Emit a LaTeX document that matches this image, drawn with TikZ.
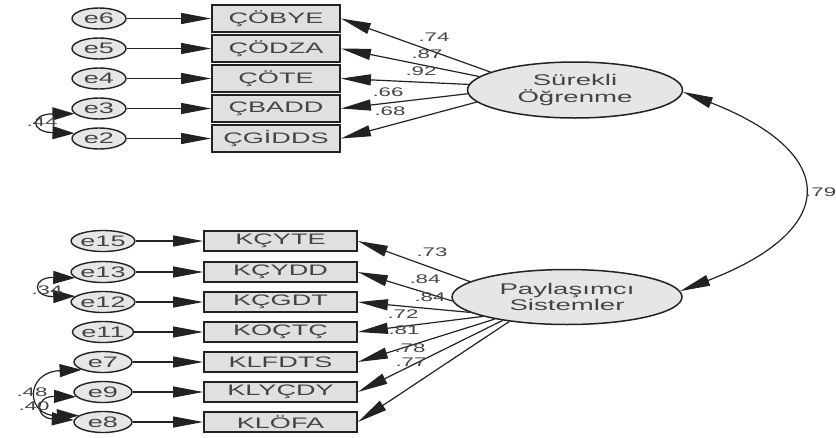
\documentclass[tikz,border=0pt]{standalone}
\usepackage{fontspec}
\setmainfont{Liberation Sans}
\usepackage{graphicx}
\usetikzlibrary{arrows.meta,shapes.geometric}

% wide lettering used throughout the path diagram
\newcommand{\wtxt}[1]{\scalebox{1.78}[1]{#1}}

\definecolor{boxfill}{HTML}{E0E0E0}
\definecolor{ellfill}{HTML}{E6E6E6}
\definecolor{linegray}{HTML}{222222}
\definecolor{txtgray}{HTML}{444444}

\begin{document}
\begin{tikzpicture}[x=1pt,y=-1pt,
  obs/.style={draw=linegray, line width=1.8pt, fill=boxfill, inner sep=0pt,
    text=txtgray, font=\fontsize{15.2}{16}\selectfont},
  obsA/.style={obs, minimum width=128pt, minimum height=27pt},
  obsB/.style={obs, minimum width=153pt, minimum height=20pt},
  err/.style={ellipse, draw=linegray, line width=1.4pt, fill=ellfill, inner sep=0pt,
    minimum height=21pt, text=txtgray, font=\fontsize{15.2}{16}\selectfont},
  errA/.style={err, minimum width=54pt},
  errB/.style={err, minimum width=58pt},
  lat/.style={ellipse, draw=linegray, line width=1.5pt, fill=ellfill, inner sep=0pt,
    align=center, text=txtgray, font=\fontsize{15.5}{16.5}\selectfont},
  pth/.style={draw=linegray, line width=1.2pt, -{Triangle[length=30pt,width=11pt]}},
  cov/.style={draw=linegray, line width=1.2pt,
    arrows={Triangle[length=22pt,width=13pt]-Triangle[length=22pt,width=13pt]}},
  corr/.style={draw=linegray, line width=1.2pt,
    arrows={Triangle[length=30pt,width=11pt]-Triangle[length=30pt,width=11pt]}},
  coef/.style={inner sep=0pt, text=txtgray, font=\fontsize{12.5}{12.5}\selectfont}
]
\useasboundingbox (0,0) rectangle (836,437);

% ---- latent factors ----
\node[lat, minimum width=215pt, minimum height=56pt] (so) at (575,90)
  {\wtxt{Sürekli}\\\wtxt{Öğrenme}};
\node[lat, minimum width=230pt, minimum height=55pt] (ps) at (567,297)
  {\wtxt{Paylaşımcı}\\\wtxt{Sistemler}};

% ---- indicators of the first factor ----
\node[obsA] (a1) at (276,18.5)  {\wtxt{ÇÖBYE}};
\node[obsA] (a2) at (276,48.5)  {\wtxt{ÇÖDZA}};
\node[obsA] (a3) at (276,78.5)  {\wtxt{ÇÖTE}};
\node[obsA] (a4) at (276,108.5) {\wtxt{ÇBADD}};
\node[obsA] (a5) at (276,138.5) {\wtxt{ÇGİDDS}};

\node[errA] (e6) at (99,18.5)  {\wtxt{e6}};
\node[errA] (e5) at (99,48.5)  {\wtxt{e5}};
\node[errA] (e4) at (99,78.5)  {\wtxt{e4}};
\node[errA] (e3) at (99,108.5) {\wtxt{e3}};
\node[errA] (e2) at (99,138.5) {\wtxt{e2}};

% ---- indicators of the second factor ----
\node[obsB] (b1) at (280.5,241) {\wtxt{KÇYTE}};
\node[obsB] (b2) at (280.5,272) {\wtxt{KÇYDD}};
\node[obsB] (b3) at (280.5,302) {\wtxt{KÇGDT}};
\node[obsB] (b4) at (280.5,332) {\wtxt{KOÇTÇ}};
\node[obsB] (b5) at (280.5,362) {\wtxt{KLFDTS}};
\node[obsB] (b6) at (280.5,392) {\wtxt{KLYÇDY}};
\node[obsB] (b7) at (280.5,422) {\wtxt{KLÖFA}};

\node[errB] (e15) at (103,241) {\wtxt{e15}};
\node[errB] (e13) at (103,272) {\wtxt{e13}};
\node[errB] (e12) at (103,302) {\wtxt{e12}};
\node[errB] (e11) at (103,332) {\wtxt{e11}};
\node[errB] (e7)  at (103,362) {\wtxt{e7}};
\node[errB] (e9)  at (103,392) {\wtxt{e9}};
\node[errB] (e8)  at (103,422) {\wtxt{e8}};

% ---- error terms to indicators ----
\foreach \e/\b in {e6/a1,e5/a2,e4/a3,e3/a4,e2/a5,
                   e15/b1,e13/b2,e12/b3,e11/b4,e7/b5,e9/b6,e8/b7}
  \draw[pth] (\e.east) -- (\b.west);

% ---- factor loadings ----
\draw[pth] (so.168.3) -- (a1.east);
\draw[pth] (so.172.4) -- (a2.east);
\draw[pth] (so.177.3) -- (a3.east);
\draw[pth] (so.182.6) -- (a4.east);
\draw[pth] (so.187.6) -- (a5.east);

\draw[pth] (ps.171.4) -- (b1.east);
\draw[pth] (ps.182)   -- (b2.east);
\draw[pth] (ps.189.7) -- (b3.east);
\draw[pth] (ps.193.4) -- (b4.east);
\draw[pth] (ps.197)   -- (b5.east);
\draw[pth] (ps.200.5) -- (b6.east);
\draw[pth] (ps.203.4) -- (b7.east);

\node[coef] (c1) at (434,37)  {\wtxt{.74}};
\node[coef] (c2) at (427,54)  {\wtxt{.87}};
\node[coef] (c3) at (421,71)  {\wtxt{.92}};
\node[coef] (c4) at (388,92)  {\wtxt{.66}};
\node[coef] (c5) at (390,111) {\wtxt{.68}};

\node[coef] (d1) at (432,252) {\wtxt{.73}};
\node[coef] (d2) at (425,279) {\wtxt{.84}};
\node[coef] (d3) at (430,297) {\wtxt{.84}};
\node[coef] (d4) at (403,314) {\wtxt{.72}};
\node[coef] (d5) at (404,330) {\wtxt{.81}};
\node[coef] (d6) at (410,348) {\wtxt{.78}};
\node[coef] (d7) at (411,362) {\wtxt{.77}};

% ---- factor correlation ----
\draw[corr] (so.-1.6) .. controls (840,153) and (840,230) .. (ps.3.5);
\node[coef, anchor=west] (r1) at (805,192) {\wtxt{.79}};

% ---- error covariances ----
\draw[cov] (e3.192) .. controls (30,114) and (30,132) .. (e2.168);
\node[coef] (k1) at (42,122) {\wtxt{.44}};

\draw[cov] (e13.192) .. controls (32,277) and (32,297) .. (e12.168);
\node[coef] (k2) at (47,290) {\wtxt{.34}};

\draw[cov] (e7.200) .. controls (25,372) and (25,416) .. (e8.165);
\draw[cov] (e9.190) .. controls (35,396) and (35,418) .. (e8.176);
\node[coef] (k3) at (32,392) {\wtxt{.48}};
\node[coef] (k4) at (34,406) {\wtxt{.40}};
\end{tikzpicture}
\end{document}
